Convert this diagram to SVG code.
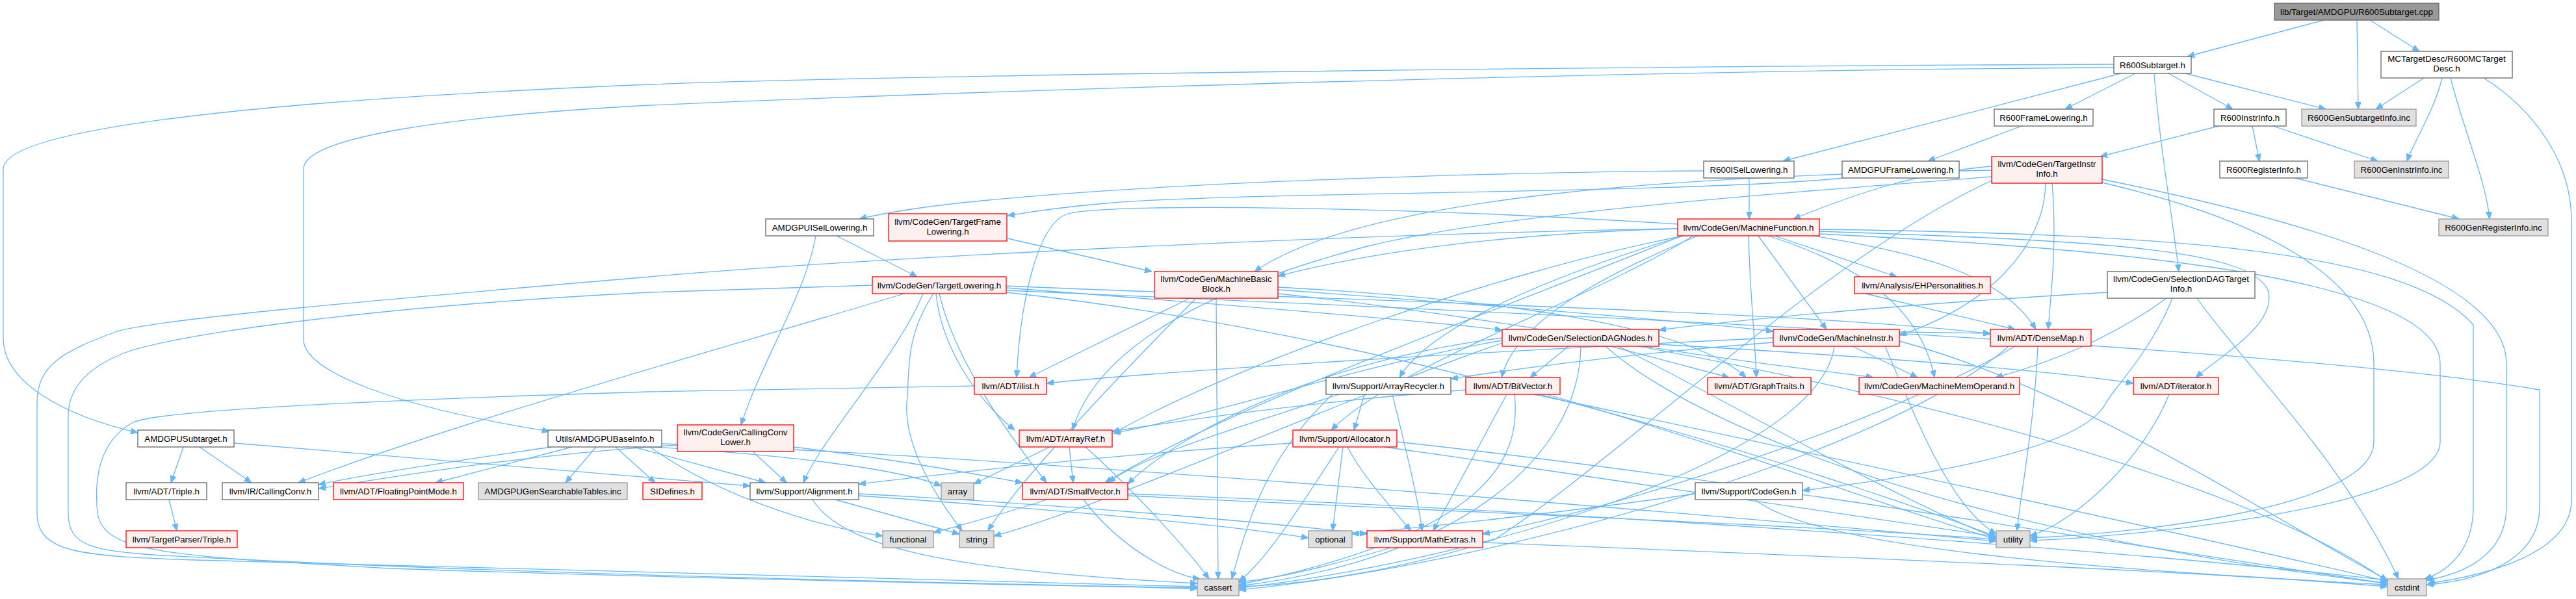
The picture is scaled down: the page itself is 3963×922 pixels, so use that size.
<svg xmlns="http://www.w3.org/2000/svg" width="3963" height="922" viewBox="0 0 3963 922">
<style>
.e path{fill:none;stroke:#63b8ff;stroke-width:1.3;marker-end:url(#a)}
.node rect{stroke-width:1.3}
.w rect{fill:#ffffff;stroke:#666666}
.r rect{fill:#fff0f0;stroke:#ff0000}
.g rect{fill:#e0e0e0;stroke:#999999}
.k rect{fill:#999999;stroke:#666666}
text{font-family:"Liberation Sans",Arial,sans-serif;font-size:13.33px;fill:#000;text-anchor:middle}
</style>
<defs>
<marker id="a" viewBox="0 0 11 9" refX="11" refY="4.5" markerWidth="11" markerHeight="9" orient="auto" markerUnits="userSpaceOnUse"><path d="M0,0L11,4.5L0,9z" fill="#63b8ff" stroke="#63b8ff" stroke-width="1"/></marker>
</defs>
<rect width="3963" height="922" fill="#ffffff"/>
<g id="edges" class="e">
<path d="M3575,31 L3365,87"/>
<path d="M3626,31 L3628,168"/>
<path d="M3646,31 L3722,79"/>
<path d="M3729,120 L3655,168"/>
<path d="M3757,120 C3745,170 3715,215 3703,248"/>
<path d="M3770,120 C3790,200 3825,280 3830,337"/>
<path d="M3821,120 C3900,170 3956,250 3956,340 L3956,770 C3956,850 3830,885 3735,898"/>
<path d="M3252,99 C2500,102 1400,115 1000,130 C500,150 5,190 5,260 L5,520 C5,590 100,640 212,666"/>
<path d="M3252,104 C2500,108 1500,140 1000,162 C700,178 467,210 467,260 L467,523 C467,570 600,625 845,664"/>
<path d="M3263,113 L2743,248"/>
<path d="M3285,113 L3177,168"/>
<path d="M3336,113 L3435,168"/>
<path d="M3362,113 L3578,168"/>
<path d="M3314,113 C3322,220 3340,320 3352,418"/>
<path d="M3110,194 L2966,248"/>
<path d="M2836,274 C2600,298 1900,295 1700,313 C1620,320 1580,327 1550,332"/>
<path d="M2621,263 C2300,265 1800,280 1500,310 C1420,318 1360,328 1322,337"/>
<path d="M2691,274 L2691,337"/>
<path d="M1255,363 C1240,450 1170,560 1140,654"/>
<path d="M1287,363 L1411,426"/>
<path d="M1550,367 L1772,418"/>
<path d="M3413,194 L3231,241"/>
<path d="M3465,194 L3476,248"/>
<path d="M3497,194 L3658,248"/>
<path d="M3531,274 L3783,337"/>
<path d="M3064,272 C2700,300 2300,330 2100,380 C1800,460 1680,560 1650,662"/>
<path d="M3157,282 C3165,380 3155,450 3151,507"/>
<path d="M3064,262 C2600,270 2100,300 1930,418"/>
<path d="M3064,256 C2950,265 2850,300 2759,337"/>
<path d="M3147,282 C3145,380 3060,470 2922,516"/>
<path d="M3064,278 C2800,400 2500,700 2300,830 C2150,880 2000,900 1906,903"/>
<path d="M3234,276 C3500,330 3856,420 3856,560 L3856,780 C3856,860 3780,885 3733,893"/>
<path d="M3234,281 C3400,320 3652,400 3652,560 L3652,680 C3652,780 3300,820 3123,828"/>
<path d="M2590,363 C2300,420 1900,560 1713,667"/>
<path d="M2612,363 C2450,430 2330,500 2310,581"/>
<path d="M2790,363 C2950,390 3080,420 3132,507"/>
<path d="M2690,363 C2692,450 2700,520 2702,581"/>
<path d="M2590,362 C2300,480 1900,620 1700,743"/>
<path d="M2581,345 C2200,320 1700,310 1640,330 C1600,345 1570,450 1564,581"/>
<path d="M2799,356 C3200,370 3470,380 3490,450 C3500,500 3420,545 3378,581"/>
<path d="M2730,363 L2918,426"/>
<path d="M2581,352 C2300,360 2100,390 1966,425"/>
<path d="M2705,363 L2810,507"/>
<path d="M2720,363 C2900,420 2960,500 2976,581"/>
<path d="M2605,363 C2450,460 2150,560 2048,662"/>
<path d="M2590,363 C2400,420 2200,500 2153,581"/>
<path d="M2581,352 C2000,362 1300,400 1000,426 C600,460 250,490 180,510 C100,540 57,560 57,620 L57,790 C57,850 120,856 300,862 C900,880 1500,895 1842,903"/>
<path d="M2799,353 C3300,360 3700,380 3805,500 L3805,780 C3805,860 3750,885 3730,891"/>
<path d="M2799,360 C3200,380 3754,420 3754,560 L3754,680 C3754,780 3300,825 3123,832"/>
<path d="M2870,452 L3100,507"/>
<path d="M1440,452 C1450,550 1520,630 1561,662"/>
<path d="M1548,440 C2000,460 2800,480 3062,514"/>
<path d="M1445,452 C1470,560 1560,680 1610,743"/>
<path d="M1548,443 C1900,470 2200,495 2311,508"/>
<path d="M1391,452 C1100,540 700,650 459,743"/>
<path d="M1420,452 C1380,550 1260,680 1236,743"/>
<path d="M1342,439 C1200,444 1100,447 1000,450 C600,470 300,510 200,540 C130,565 105,600 105,640 L105,790 C105,840 140,848 250,855 C800,885 1500,898 1842,905"/>
<path d="M1548,447 C2300,480 3500,530 3907,600 L3907,780 C3907,870 3800,895 3733,900"/>
<path d="M1436,452 C1390,520 1400,580 1395,620 C1390,700 1460,790 1480,817"/>
<path d="M1548,450 C2200,520 2900,760 3071,826"/>
<path d="M1966,442 C2300,460 2600,500 2686,581"/>
<path d="M1830,459 L1583,581"/>
<path d="M1966,446 C2300,470 2600,495 2728,510"/>
<path d="M1871,459 L1874,891"/>
<path d="M1966,452 C2600,520 3400,700 3673,895"/>
<path d="M1840,459 C1700,600 1560,750 1520,817"/>
<path d="M3242,450 C2900,470 2700,490 2552,508"/>
<path d="M3333,459 C3250,520 3150,560 3070,581"/>
<path d="M3342,459 C3310,540 3250,600 3240,620 C3200,700 2900,740 2773,755"/>
<path d="M3380,459 C3450,560 3600,700 3690,891"/>
<path d="M2311,524 C2100,560 1900,630 1713,667"/>
<path d="M2413,533 L2354,581"/>
<path d="M2478,533 L2660,581"/>
<path d="M2311,520 C2000,560 1800,680 1735,745"/>
<path d="M2552,530 C2900,550 3150,570 3282,590"/>
<path d="M2530,533 C2700,560 2800,570 2882,581"/>
<path d="M2432,533 C2430,700 2250,860 1906,902"/>
<path d="M2470,533 C2600,650 3000,820 3673,898"/>
<path d="M2311,528 C2100,600 1700,780 1529,825"/>
<path d="M2490,533 C2700,640 2900,760 3071,828"/>
<path d="M2728,520 C2300,540 1800,570 1610,590"/>
<path d="M2850,533 L2950,581"/>
<path d="M2728,527 C2500,545 2350,565 2232,583"/>
<path d="M2922,511 L3062,513"/>
<path d="M2822,533 C2800,700 2300,860 1906,905"/>
<path d="M2922,525 C3200,600 3500,800 3673,893"/>
<path d="M2900,533 C2950,650 3000,780 3071,822"/>
<path d="M2099,607 L2083,662"/>
<path d="M2142,607 C2160,680 2180,760 2188,817"/>
<path d="M2060,607 C1900,660 1760,700 1705,743"/>
<path d="M2050,607 C1950,700 1920,800 1895,891"/>
<path d="M2255,600 C2000,620 1800,650 1711,664"/>
<path d="M2318,607 L2205,817"/>
<path d="M2330,607 C2340,700 2300,820 1906,900"/>
<path d="M2360,607 C2800,700 3400,830 3673,895"/>
<path d="M2380,607 C2700,700 2900,780 3071,830"/>
<path d="M1989,682 C1700,700 1450,730 1321,745"/>
<path d="M2073,688 C2100,740 2150,790 2170,817"/>
<path d="M2066,688 L2050,817"/>
<path d="M2060,688 C2000,780 1950,860 1906,895"/>
<path d="M2149,680 C2700,740 3400,860 3673,898"/>
<path d="M2130,688 C2500,740 2900,800 3071,826"/>
<path d="M1610,769 C1550,790 1470,810 1436,820"/>
<path d="M1667,769 C1720,840 1800,885 1846,891"/>
<path d="M1735,760 C2500,790 3300,850 3673,893"/>
<path d="M1735,763 C2300,790 2800,810 3071,830"/>
<path d="M1645,688 L1651,743"/>
<path d="M1615,688 L1498,745"/>
<path d="M1670,688 C1750,760 1830,850 1860,891"/>
<path d="M3337,607 C3300,700 3200,800 3123,825"/>
<path d="M3100,533 C2900,650 2500,780 2281,822"/>
<path d="M3090,533 C2900,700 2300,870 1906,908"/>
<path d="M3135,533 C3130,650 3110,750 3103,817"/>
<path d="M2700,769 C2800,850 3300,880 3673,900"/>
<path d="M2608,760 C2400,790 2200,810 2080,822"/>
<path d="M2140,843 C2050,870 1970,890 1906,896"/>
<path d="M2281,835 C2900,860 3400,880 3673,903"/>
<path d="M282,688 L263,743"/>
<path d="M307,688 L387,743"/>
<path d="M360,682 C700,710 1000,735 1154,748"/>
<path d="M260,769 L272,817"/>
<path d="M947,688 L1008,743"/>
<path d="M848,688 C700,710 560,730 490,746"/>
<path d="M880,688 L670,743"/>
<path d="M917,688 L870,743"/>
<path d="M975,688 L1178,743"/>
<path d="M1005,688 C1200,700 1380,720 1448,748"/>
<path d="M1000,688 C1100,760 1250,810 1358,825"/>
<path d="M1018,683 C1500,700 2500,780 3071,833"/>
<path d="M1221,688 C1400,710 1500,730 1573,743"/>
<path d="M1042,685 C800,700 600,735 490,752"/>
<path d="M1158,695 L1210,743"/>
<path d="M1321,760 C1700,780 2000,810 2103,822"/>
<path d="M1250,769 C1300,850 1500,880 1842,898"/>
<path d="M1321,763 C1700,790 1900,810 2013,828"/>
<path d="M1285,769 L1476,822"/>
<path d="M1499,594 C1300,598 1100,600 1000,603 C600,615 250,630 205,650 C150,680 145,740 150,790 C160,850 250,855 600,875 C1200,895 1600,900 1842,906"/>
</g>
<g id="n_root" class="node k"><rect x="3499" y="5" width="253" height="26"/><text x="3625.5" y="22.5">lib/Target/AMDGPU/R600Subtarget.cpp</text></g>
<g id="n_R600Subtarget_h" class="node w"><rect x="3252" y="87" width="119" height="26"/><text x="3311.5" y="104.5">R600Subtarget.h</text></g>
<g id="n_R600MCTargetDesc" class="node w"><rect x="3663" y="79" width="202" height="41"/><text x="3764" y="95">MCTargetDesc/R600MCTarget</text><text x="3764" y="110">Desc.h</text></g>
<g id="n_R600FrameLowering" class="node w"><rect x="3068" y="168" width="152" height="26"/><text x="3144" y="185.5">R600FrameLowering.h</text></g>
<g id="n_R600InstrInfo" class="node w"><rect x="3406" y="168" width="111" height="26"/><text x="3461.5" y="185.5">R600InstrInfo.h</text></g>
<g id="n_R600GenSubtargetInfo" class="node g"><rect x="3541" y="168" width="176" height="26"/><text x="3629" y="185.5">R600GenSubtargetInfo.inc</text></g>
<g id="n_R600ISelLowering" class="node w"><rect x="2621" y="248" width="139" height="26"/><text x="2690.5" y="265.5">R600ISelLowering.h</text></g>
<g id="n_AMDGPUFrameLowering" class="node w"><rect x="2834" y="248" width="180" height="26"/><text x="2924" y="265.5">AMDGPUFrameLowering.h</text></g>
<g id="n_TargetInstrInfo" class="node r"><rect x="3064" y="241" width="170" height="41"/><text x="3149" y="257">llvm/CodeGen/TargetInstr</text><text x="3149" y="272">Info.h</text></g>
<g id="n_R600RegisterInfo" class="node w"><rect x="3415" y="248" width="135" height="26"/><text x="3482.5" y="265.5">R600RegisterInfo.h</text></g>
<g id="n_R600GenInstrInfo" class="node g"><rect x="3622" y="248" width="145" height="26"/><text x="3694.5" y="265.5">R600GenInstrInfo.inc</text></g>
<g id="n_AMDGPUISelLowering" class="node w"><rect x="1178" y="337" width="166" height="26"/><text x="1261" y="354.5">AMDGPUISelLowering.h</text></g>
<g id="n_TargetFrameLowering" class="node r"><rect x="1367" y="329" width="182" height="42"/><text x="1458" y="345.5">llvm/CodeGen/TargetFrame</text><text x="1458" y="360.5">Lowering.h</text></g>
<g id="n_MachineFunction" class="node r"><rect x="2581" y="337" width="218" height="26"/><text x="2690" y="354.5">llvm/CodeGen/MachineFunction.h</text></g>
<g id="n_R600GenRegisterInfo" class="node g"><rect x="3752" y="337" width="168" height="26"/><text x="3836" y="354.5">R600GenRegisterInfo.inc</text></g>
<g id="n_TargetLowering" class="node r"><rect x="1342" y="426" width="206" height="26"/><text x="1445" y="443.5">llvm/CodeGen/TargetLowering.h</text></g>
<g id="n_MachineBasicBlock" class="node r"><rect x="1776" y="418" width="190" height="41"/><text x="1871" y="434">llvm/CodeGen/MachineBasic</text><text x="1871" y="449">Block.h</text></g>
<g id="n_EHPersonalities" class="node r"><rect x="2853" y="426" width="209" height="26"/><text x="2957.5" y="443.5">llvm/Analysis/EHPersonalities.h</text></g>
<g id="n_SelectionDAGTargetInfo" class="node w"><rect x="3242" y="418" width="227" height="41"/><text x="3355.5" y="434">llvm/CodeGen/SelectionDAGTarget</text><text x="3355.5" y="449">Info.h</text></g>
<g id="n_SelectionDAGNodes" class="node r"><rect x="2311" y="507" width="241" height="26"/><text x="2431.5" y="524.5">llvm/CodeGen/SelectionDAGNodes.h</text></g>
<g id="n_MachineInstr" class="node r"><rect x="2728" y="507" width="194" height="26"/><text x="2825" y="524.5">llvm/CodeGen/MachineInstr.h</text></g>
<g id="n_DenseMap" class="node r"><rect x="3062" y="507" width="155" height="26"/><text x="3139.5" y="524.5">llvm/ADT/DenseMap.h</text></g>
<g id="n_ilist" class="node r"><rect x="1499" y="581" width="111" height="26"/><text x="1554.5" y="598.5">llvm/ADT/ilist.h</text></g>
<g id="n_ArrayRecycler" class="node w"><rect x="2040" y="581" width="192" height="26"/><text x="2136" y="598.5">llvm/Support/ArrayRecycler.h</text></g>
<g id="n_BitVector" class="node r"><rect x="2255" y="581" width="145" height="26"/><text x="2327.5" y="598.5">llvm/ADT/BitVector.h</text></g>
<g id="n_GraphTraits" class="node r"><rect x="2627" y="581" width="159" height="26"/><text x="2706.5" y="598.5">llvm/ADT/GraphTraits.h</text></g>
<g id="n_MachineMemOperand" class="node r"><rect x="2860" y="581" width="247" height="26"/><text x="2983.5" y="598.5">llvm/CodeGen/MachineMemOperand.h</text></g>
<g id="n_iterator" class="node r"><rect x="3282" y="581" width="131" height="26"/><text x="3347.5" y="598.5">llvm/ADT/iterator.h</text></g>
<g id="n_AMDGPUSubtarget" class="node w"><rect x="212" y="662" width="148" height="26"/><text x="286" y="679.5">AMDGPUSubtarget.h</text></g>
<g id="n_AMDGPUBaseInfo" class="node w"><rect x="843" y="662" width="175" height="26"/><text x="930.5" y="679.5">Utils/AMDGPUBaseInfo.h</text></g>
<g id="n_CallingConvLower" class="node r"><rect x="1042" y="654" width="179" height="41"/><text x="1131.5" y="670">llvm/CodeGen/CallingConv</text><text x="1131.5" y="685">Lower.h</text></g>
<g id="n_ArrayRef" class="node r"><rect x="1568" y="662" width="143" height="26"/><text x="1639.5" y="679.5">llvm/ADT/ArrayRef.h</text></g>
<g id="n_Allocator" class="node r"><rect x="1989" y="662" width="160" height="26"/><text x="2069" y="679.5">llvm/Support/Allocator.h</text></g>
<g id="n_Triple" class="node w"><rect x="194" y="743" width="124" height="26"/><text x="256" y="760.5">llvm/ADT/Triple.h</text></g>
<g id="n_CallingConv" class="node w"><rect x="342" y="743" width="148" height="26"/><text x="416" y="760.5">llvm/IR/CallingConv.h</text></g>
<g id="n_FloatingPointMode" class="node r"><rect x="513" y="743" width="200" height="26"/><text x="613" y="760.5">llvm/ADT/FloatingPointMode.h</text></g>
<g id="n_AMDGPUGenSearchableTables" class="node g"><rect x="736" y="743" width="229" height="26"/><text x="850.5" y="760.5">AMDGPUGenSearchableTables.inc</text></g>
<g id="n_SIDefines" class="node r"><rect x="989" y="743" width="91" height="26"/><text x="1034.5" y="760.5">SIDefines.h</text></g>
<g id="n_Alignment" class="node w"><rect x="1154" y="743" width="167" height="26"/><text x="1237.5" y="760.5">llvm/Support/Alignment.h</text></g>
<g id="n_array" class="node g"><rect x="1448" y="743" width="50" height="26"/><text x="1473" y="760.5">array</text></g>
<g id="n_SmallVector" class="node r"><rect x="1573" y="743" width="162" height="26"/><text x="1654" y="760.5">llvm/ADT/SmallVector.h</text></g>
<g id="n_CodeGen" class="node w"><rect x="2608" y="743" width="165" height="26"/><text x="2690.5" y="760.5">llvm/Support/CodeGen.h</text></g>
<g id="n_TargetParserTriple" class="node r"><rect x="194" y="817" width="171" height="26"/><text x="279.5" y="834.5">llvm/TargetParser/Triple.h</text></g>
<g id="n_functional" class="node g"><rect x="1358" y="817" width="78" height="26"/><text x="1397" y="834.5">functional</text></g>
<g id="n_string" class="node g"><rect x="1476" y="817" width="53" height="26"/><text x="1502.5" y="834.5">string</text></g>
<g id="n_optional" class="node g"><rect x="2013" y="817" width="67" height="26"/><text x="2046.5" y="834.5">optional</text></g>
<g id="n_MathExtras" class="node r"><rect x="2103" y="817" width="178" height="26"/><text x="2192" y="834.5">llvm/Support/MathExtras.h</text></g>
<g id="n_utility" class="node g"><rect x="3071" y="817" width="52" height="26"/><text x="3097" y="834.5">utility</text></g>
<g id="n_cassert" class="node g"><rect x="1842" y="891" width="64" height="26"/><text x="1874" y="908.5">cassert</text></g>
<g id="n_cstdint" class="node g"><rect x="3673" y="891" width="60" height="26"/><text x="3703" y="908.5">cstdint</text></g>
</svg>
